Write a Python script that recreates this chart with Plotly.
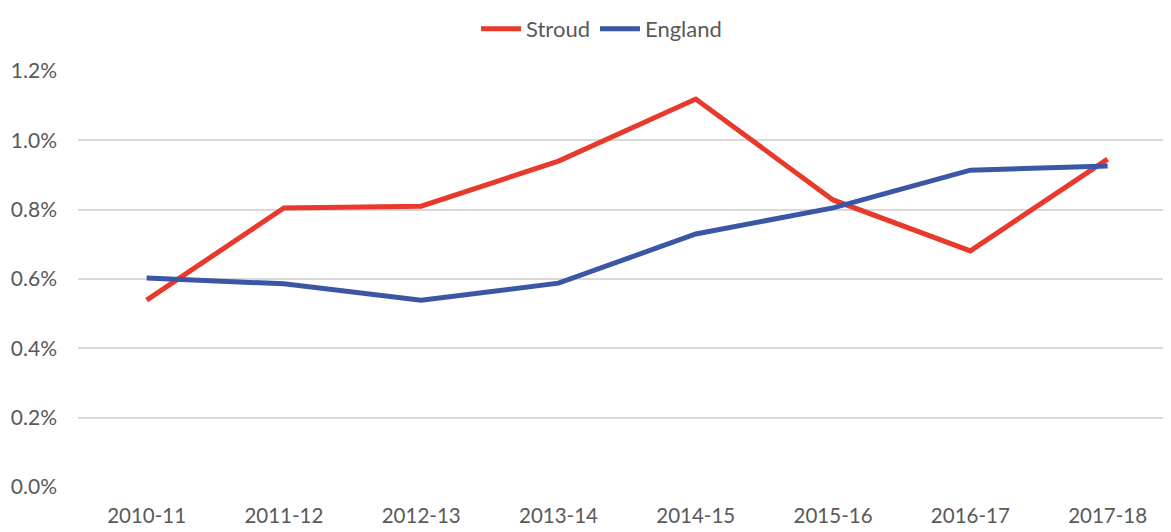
import plotly.graph_objects as go

categories = ["2010-11", "2011-12", "2012-13", "2013-14", "2014-15", "2015-16", "2016-17", "2017-18"]
stroud = [0.539, 0.805, 0.810, 0.940, 1.119, 0.828, 0.681, 0.946]
england = [0.603, 0.586, 0.539, 0.588, 0.730, 0.805, 0.914, 0.926]
y_ticks = [0.0, 0.2, 0.4, 0.6, 0.8, 1.0, 1.2]

FONT = "Lato, 'Open Sans', sans-serif"
GREY = "#595959"

fig = go.Figure()
fig.add_trace(go.Scatter(x=list(range(len(categories))), y=stroud, name="Stroud", mode="lines",
                         line=dict(color="#E8392A", width=5)))
fig.add_trace(go.Scatter(x=list(range(len(categories))), y=england, name="England", mode="lines",
                         line=dict(color="#3A56A5", width=5)))

fig.update_layout(
    width=1171, height=532,
    margin=dict(l=70, r=0, t=63, b=53, autoexpand=False),
    paper_bgcolor="white", plot_bgcolor="white",
    font=dict(family=FONT, size=20, color=GREY),
    legend=dict(orientation="h", x=0.4755, xanchor="center", y=1.0, yanchor="top",
                yref="container", font=dict(size=22, color=GREY), itemwidth=40,
                tracegroupgap=0, borderwidth=0),
    showlegend=True,
)
fig.update_xaxes(
    tickmode="array", tickvals=list(range(len(categories))), ticktext=categories,
    range=[-0.5, 7.52], showgrid=False, zeroline=False, showline=False,
    ticks="", tickfont=dict(size=20.5, color=GREY), automargin=False,
    ticklabelstandoff=14,
)
fig.update_yaxes(
    range=[0, 1.2], tickmode="array", tickvals=y_ticks,
    ticktext=[f"{v:.1f}%" for v in y_ticks],
    showgrid=True, gridcolor="#D9D9D9", gridwidth=1.5, zeroline=False,
    showline=False, ticks="", ticklabelstandoff=20, tickfont=dict(size=21, color=GREY),
    automargin=False,
)

fig.write_html("out.html")
